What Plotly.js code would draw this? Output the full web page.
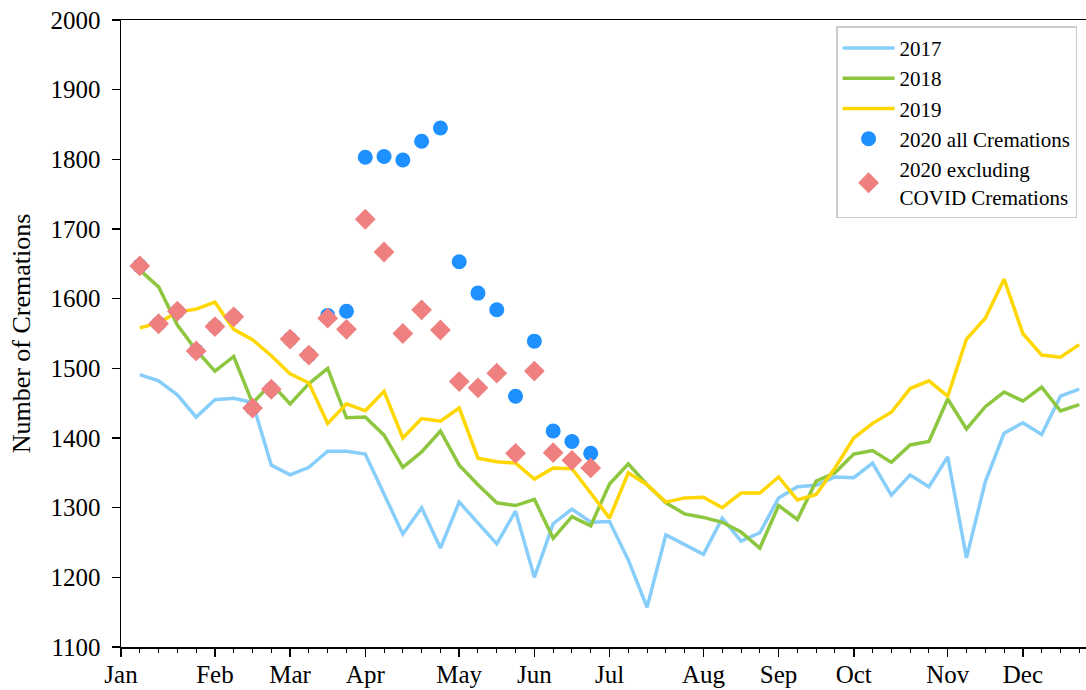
<!DOCTYPE html>
<html>
<head>
<meta charset="utf-8">
<script src="https://cdn.plot.ly/plotly-3.0.1.min.js"></script>
<style>html,body{margin:0;padding:0;background:#fff;}#chart{width:1086px;height:690px;}</style>
</head>
<body>
<div id="chart"></div>
<script>
// week numbers of the year
var weeks = [];
for (var i = 1; i <= 51; i++) weeks.push(i);
var weeks2020 = weeks.slice(0, 25);

var y2017 = [1491,1482,1462,1430,1455,1457,1451,1361,1347,1358,
             1381,1381,1377,1320,1262,1300,1242,1308,1278,1248,
             1295,1200,1277,1298,1279,1280,1225,1157,1261,1247,
             1233,1285,1252,1264,1314,1330,1332,1344,1343,1364,
             1318,1347,1330,1373,1228,1337,1407,1422,1405,1460,1470];
var y2018 = [1641,1617,1562,1526,1496,1517,1450,1478,1449,1478,
             1500,1429,1430,1404,1358,1380,1410,1361,1333,1307,
             1303,1312,1256,1287,1274,1334,1363,1333,1307,1291,
             1286,1279,1265,1242,1303,1283,1338,1350,1377,1382,
             1365,1390,1395,1456,1413,1445,1466,1453,1473,1439,1448];
var y2019 = [1558,1565,1581,1585,1595,1556,1541,1518,1492,1479,
             1421,1449,1439,1467,1400,1428,1424,1443,1371,1366,
             1364,1341,1357,1356,1321,1285,1350,1333,1308,1314,
             1315,1300,1321,1321,1344,1311,1319,1357,1400,1421,
             1437,1471,1482,1460,1542,1572,1628,1550,1519,1516,1534];
var y2020all = [1647,1564,1582,1525,1560,1574,1443,1470,1542,1519,
                1576,1582,1803,1804,1799,1826,1845,1653,1608,1584,
                1460,1539,1410,1395,1378];
var y2020excl = [1647,1564,1582,1525,1560,1574,1443,1470,1542,1519,
                 1572,1556,1714,1667,1550,1584,1555,1481,1472,1493,
                 1378,1496,1379,1368,1357];

var monthTickWeeks = [0,5,9,13,18,22,26,31,35,39,44,48];
var monthLabels = ['Jan','Feb','Mar','Apr','May','Jun','Jul','Aug','Sep','Oct','Nov','Dec'];

var serif = '"Liberation Serif", "Times New Roman", serif';

var traces = [
  {x: weeks, y: y2017, mode: 'lines', name: '2017', line: {color: '#87CEFA', width: 3.5}},
  {x: weeks, y: y2018, mode: 'lines', name: '2018', line: {color: '#8DC63F', width: 3.5}},
  {x: weeks, y: y2019, mode: 'lines', name: '2019', line: {color: '#FFD700', width: 3.5}},
  {x: weeks2020, y: y2020all, mode: 'markers', name: '2020 all Cremations',
   marker: {color: '#1E90FF', size: 15, symbol: 'circle'}},
  {x: weeks2020, y: y2020excl, mode: 'markers', name: '2020 excluding<br>COVID Cremations',
   marker: {color: '#F08080', size: 16, symbol: 'diamond'}}
];

var layout = {
  width: 1086, height: 690,
  margin: {l: 121, r: 0, t: 20, b: 43},
  paper_bgcolor: '#fff', plot_bgcolor: '#fff',
  font: {family: serif, size: 25, color: '#000'},
  showlegend: true,
  legend: {
    x: 0.741, y: 0.99, xanchor: 'left', yanchor: 'top',
    bgcolor: '#fff', bordercolor: '#cccccc', borderwidth: 1.5,
    font: {family: serif, size: 21, color: '#000'},
    itemwidth: 52,
    tracegroupgap: 0
  },
  xaxis: {
    range: [0, 51.36],
    tickmode: 'array', tickvals: monthTickWeeks, ticktext: monthLabels,
    ticks: 'outside', ticklen: 8, tickwidth: 1.5, tickcolor: '#000',
    showline: true, linecolor: '#000', linewidth: 1.5, mirror: true,
    showgrid: false, zeroline: false,
    ticklabelstandoff: -4,
    tickfont: {family: serif, size: 25, color: '#000'},
    minor: {tickmode: 'linear', tick0: 0, dtick: 1, ticks: 'outside', ticklen: 4, tickwidth: 1, tickcolor: '#000', showgrid: false}
  },
  yaxis: {
    range: [1100, 2000],
    tickmode: 'linear', tick0: 1100, dtick: 100,
    ticks: 'outside', ticklen: 8, tickwidth: 1.5, tickcolor: '#000',
    showline: true, linecolor: '#000', linewidth: 1.5, mirror: false,
    showgrid: false, zeroline: false,
    ticklabelstandoff: 6,
    tickfont: {family: serif, size: 25, color: '#000'},
    title: {text: 'Number of Cremations', font: {family: serif, size: 26, color: '#000'}, standoff: 12}
  }
};

Plotly.newPlot('chart', traces, layout, {displayModeBar: false, staticPlot: true});
</script>
</body>
</html>
